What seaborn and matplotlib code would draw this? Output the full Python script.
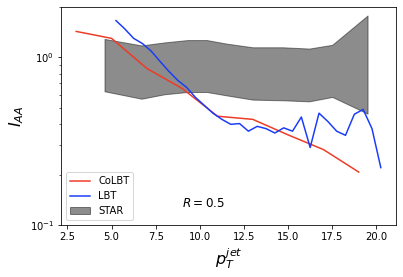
import numpy as np
import pandas as pd
import seaborn as sns
import matplotlib.pyplot as plt

# CoLBT curve
colbt_pt = [3, 5, 7, 9, 11, 13, 15, 17, 19]
colbt_iaa = [1.43, 1.30, 0.86, 0.653, 0.446, 0.427, 0.345, 0.282, 0.207]

# LBT curve (0.5 GeV bins)
lbt_pt = [5.25, 5.75, 6.25, 6.75, 7.25, 7.75, 8.25, 8.75, 9.25, 9.75,
          10.25, 10.75, 11.25, 11.75, 12.25, 12.75, 13.25, 13.75, 14.25, 14.75,
          15.25, 15.75, 16.25, 16.75, 17.25, 17.75, 18.25, 18.75, 19.25, 19.75, 20.25]
lbt_iaa = [1.66, 1.48, 1.30, 1.21, 1.09, 0.946, 0.826, 0.73, 0.663, 0.578,
           0.518, 0.464, 0.427, 0.399, 0.403, 0.363, 0.388, 0.376, 0.354, 0.380,
           0.363, 0.441, 0.290, 0.465, 0.415, 0.363, 0.343, 0.458, 0.490, 0.376, 0.220]

# STAR band
star_pt = [4.6, 6.7, 8.0, 9.3, 10.4, 11.5, 13.0, 14.7, 16.2, 17.5, 19.5]
star_hi = [1.29, 1.18, 1.23, 1.27, 1.27, 1.21, 1.15, 1.15, 1.13, 1.19, 1.78]
star_lo = [0.628, 0.567, 0.603, 0.622, 0.622, 0.594, 0.56, 0.555, 0.547, 0.581, 0.462]

fig = plt.figure(figsize=(403/72, 277/72), dpi=72)
ax = fig.add_axes([0.1514, 0.1877, 0.8313, 0.787])

sns.lineplot(x=colbt_pt, y=colbt_iaa, color='#ee3a26', lw=1.5, label='CoLBT', ax=ax)
sns.lineplot(x=lbt_pt, y=lbt_iaa, color='#1a3cf8', lw=1.5, label='LBT', ax=ax)
ax.fill_between(star_pt, star_lo, star_hi, color='k', alpha=0.45, label='STAR')

ax.set_yscale('log')
ax.set_ylim(0.1, 2)
ax.text(9.0, 0.135, '$R=0.5$', fontsize=12, va='center')
ax.set_xlabel('$p_T^{jet}$', fontsize=16)
ax.set_ylabel('$I_{AA}$', fontsize=16)
ax.tick_params(labelsize=10)
ax.legend(loc='lower left', fontsize=10)

fig.savefig('out.png', dpi=72)
